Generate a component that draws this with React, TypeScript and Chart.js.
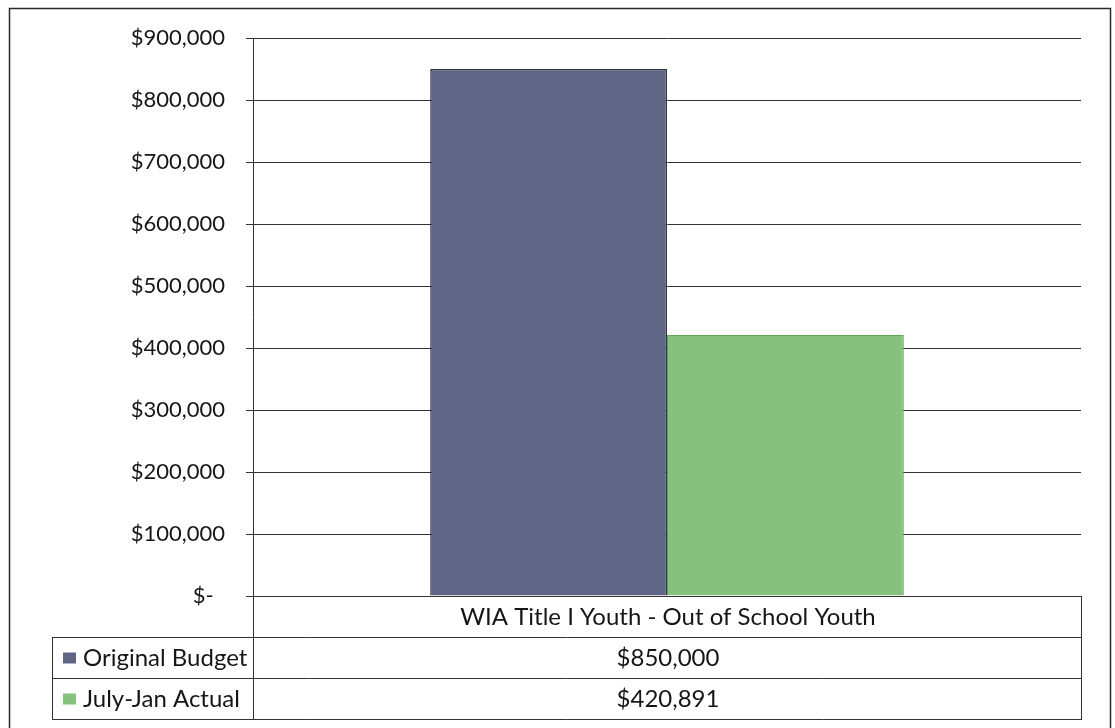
import React, { useEffect, useRef } from 'react';
import { Chart, registerables } from 'chart.js';

Chart.register(...registerables);

const categories = ['WIA Title I Youth - Out of School Youth'];
const seriesNames = ['Original Budget', 'July-Jan Actual'];
const originalBudget = [850000];
const julyJanActual = [420891];
const yTickLabels = ['$-  ', '$100,000', '$200,000', '$300,000', '$400,000', '$500,000', '$600,000', '$700,000', '$800,000', '$900,000'];
const seriesColors = ['#5f6584', '#86c27e'];
const seriesBorders = ['#2f3345', '#62a25a'];

const FONT = 'Lato, "Open Sans", sans-serif';
const LINE = '#333333';
const TEXT = '#161616';

const fmt = (v: number) => '$' + v.toLocaleString('en-US');

const tablePlugin = {
  id: 'dataTable',
  afterDraw(chart: any) {
    const { ctx, chartArea } = chart;
    const seriesValues = [originalBudget, julyJanActual];
    const rowH = 41;
    const tableLeft = 52;
    const top = chartArea.bottom;
    const left = chartArea.left;
    const right = chartArea.right;
    const bottom = top + rowH * 3;
    ctx.save();
    ctx.strokeStyle = LINE;
    ctx.lineWidth = 1;
    const h = (x1: number, x2: number, y: number) => {
      ctx.beginPath();
      ctx.moveTo(x1, Math.round(y) + 0.5);
      ctx.lineTo(x2, Math.round(y) + 0.5);
      ctx.stroke();
    };
    const v = (x: number, y1: number, y2: number) => {
      ctx.beginPath();
      ctx.moveTo(Math.round(x) + 0.5, y1);
      ctx.lineTo(Math.round(x) + 0.5, y2);
      ctx.stroke();
    };
    h(left, right, top);
    for (let i = 1; i <= 3; i++) h(tableLeft, right, top + rowH * i);
    v(left, top, bottom);
    v(right, top, bottom + 1);
    v(tableLeft, top + rowH, bottom + 1);

    ctx.fillStyle = TEXT;
    ctx.font = `24px ${FONT}`;
    ctx.textBaseline = 'middle';
    ctx.textAlign = 'center';
    const cx = (left + right) / 2 + 1;
    ctx.fillText(categories[0], cx, top + rowH / 2 + 1);
    seriesValues.forEach((vals, i) => {
      ctx.fillText(fmt(vals[0]), cx, top + rowH * (i + 1) + rowH / 2 + 1);
    });
    ctx.textAlign = 'left';
    seriesNames.forEach((name, i) => {
      const yMid = top + rowH * (i + 1) + rowH / 2;
      ctx.fillStyle = seriesColors[i];
      ctx.fillRect(tableLeft + 11, yMid - 5, 13, 11);
      ctx.fillStyle = TEXT;
      ctx.fillText(name, tableLeft + 31, yMid + 1);
    });

    // outer chart border
    ctx.strokeStyle = '#2a2a2a';
    ctx.lineWidth = 1.5;
    ctx.strokeRect(9.5, 8.5, 1101, 760);
    ctx.restore();
  },
};

export default function App() {
  const ref = useRef<HTMLCanvasElement>(null);
  useEffect(() => {
    document.body.style.margin = '0';
    const canvas = ref.current!;
    const chart = new Chart(canvas, {
      type: 'bar',
      data: {
        labels: categories,
        datasets: [
          {
            label: seriesNames[0],
            data: originalBudget,
            backgroundColor: seriesColors[0],
            borderColor: seriesBorders[0],
            borderWidth: 1.5,
          },
          {
            label: seriesNames[1],
            data: julyJanActual,
            backgroundColor: seriesColors[1],
            borderColor: seriesBorders[1],
            borderWidth: 1,
          },
        ],
      },
      options: {
        responsive: false,
        animation: false,
        devicePixelRatio: 1,
        layout: { padding: { left: 0, right: 34, top: 38, bottom: 132 } },
        datasets: { bar: { categoryPercentage: 0.572, barPercentage: 1.0 } },
        plugins: { legend: { display: false }, tooltip: { enabled: false } },
        scales: {
          x: { display: false },
          y: {
            min: 0,
            max: 900000,
            afterFit: (s: any) => {
              s.width = 253;
            },
            afterBuildTicks: (s: any) => {
              s.ticks = yTickLabels.map((_, i) => ({ value: i * 100000 }));
            },
            ticks: {
              padding: 21,
              color: TEXT,
              font: { family: FONT, size: 22 },
              callback: (_v: any, i: number) => yTickLabels[i],
            },
            grid: { color: LINE, lineWidth: 1, tickLength: 7, tickColor: LINE, drawTicks: true },
            border: { display: true, color: LINE, width: 1 },
          },
        },
      },
      plugins: [tablePlugin],
    });
    return () => chart.destroy();
  }, []);
  return (
    <div style={{ width: 1115, height: 728, background: '#fff' }}>
      <canvas ref={ref} width={1115} height={728} style={{ display: 'block' }} />
    </div>
  );
}
